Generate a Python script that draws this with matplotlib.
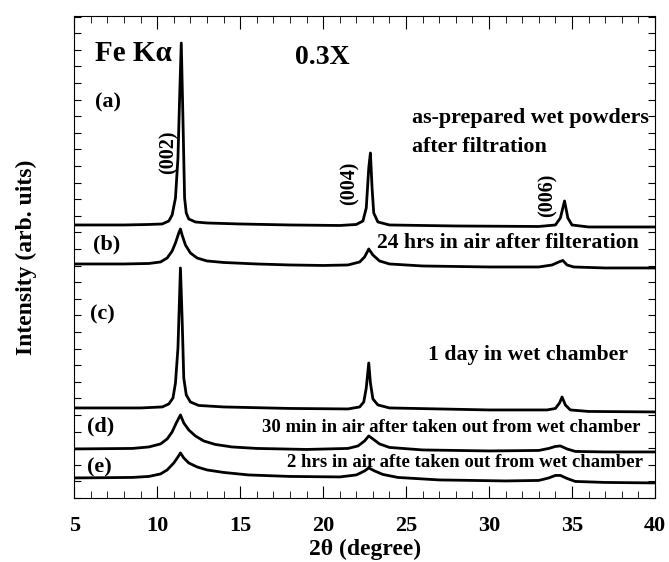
import matplotlib
matplotlib.use("Agg")
import matplotlib.pyplot as plt
from matplotlib.ticker import MultipleLocator

# XRD traces: 2theta (degree), intensity (arb., offset already included)
x_a = [5.0, 8.0, 9.5, 10.3, 10.7, 10.9, 11.1, 11.25, 11.35, 11.45, 11.55, 11.65, 11.75, 11.9,
       12.3, 13.0, 15.0, 18.0, 21.0, 22.0, 22.4, 22.6, 22.75, 22.85, 22.95, 23.05, 23.3, 24.0,
       28.0, 33.0, 34.0, 34.3, 34.55, 34.75, 35.0, 36.0, 40.0]
y_a = [273, 273, 273.5, 274, 277, 283, 300, 340, 400, 455, 380, 300, 285, 279,
       276, 275, 274, 273, 272.5, 273.5, 277, 290, 330, 345, 310, 285, 276, 273,
       272, 271.5, 273, 280, 297, 280, 273, 271, 271]

x_b = [5.0, 8.0, 9.5, 10.2, 10.6, 10.9, 11.1, 11.3, 11.4, 11.5, 11.7, 12.0, 12.4, 13.0,
       14.0, 16.0, 18.0, 20.0, 21.5, 22.2, 22.5, 22.75, 23.0, 23.4, 24.0, 26.0, 30.0, 33.0,
       33.8, 34.2, 34.45, 34.7, 35.1, 37.0, 40.0]
y_b = [234, 234, 234.5, 236, 240, 247, 255, 265, 269, 263, 253, 245, 240, 237,
       235.5, 234, 233, 232.5, 233, 236, 241, 249, 243, 237, 234, 232, 231, 231,
       233, 236, 237.5, 233, 231, 230, 230]

x_c = [5.0, 9.0, 10.3, 10.7, 10.95, 11.1, 11.25, 11.4, 11.5, 11.6, 11.75, 12.0, 12.5, 14.0,
       18.0, 21.5, 22.2, 22.45, 22.6, 22.75, 22.85, 23.0, 23.3, 24.0, 30.0, 33.5, 34.0,
       34.25, 34.4, 34.6, 34.9, 36.0, 40.0]
y_c = [90, 90, 91, 94, 100, 115, 150, 230, 180, 120, 103, 96, 92.5, 91,
       89.5, 89, 91, 96, 110, 135, 115, 99, 93, 90, 88, 88, 89.5,
       95, 101, 93, 88, 86.5, 86]

x_d = [5.0, 8.5, 9.5, 10.2, 10.6, 10.9, 11.15, 11.4, 11.6, 11.9, 12.3, 12.8, 13.5, 14.5,
       16.0, 19.0, 21.5, 22.1, 22.5, 22.75, 23.0, 23.4, 24.0, 26.0, 30.0, 33.0, 33.6, 34.0,
       34.3, 34.7, 35.2, 37.0, 40.0]
y_d = [49, 49.5, 51, 54, 59, 66, 75, 83, 75, 68, 62, 57, 53.5, 51,
       49.5, 48.5, 49.5, 52, 57, 62, 59, 54, 50.5, 48, 47, 47.5, 49.5, 51.5,
       52, 49, 46.5, 46, 46]

x_e = [5.0, 8.5, 9.5, 10.2, 10.6, 11.0, 11.25, 11.4, 11.6, 11.9, 12.4, 13.0, 14.0, 15.5,
       18.0, 21.0, 22.0, 22.5, 22.75, 23.1, 23.6, 24.5, 27.0, 31.0, 33.0, 33.6, 34.0, 34.3,
       34.7, 35.2, 37.0, 40.0]
y_e = [20, 20.5, 21.5, 24, 28, 35, 41, 45, 40, 35, 31, 28, 25.5, 23,
       21.5, 21, 23, 27, 30, 27, 23.5, 20.5, 18, 17, 17.5, 20, 22.5, 22.5,
       19.5, 16.5, 15.5, 15]

traces = [(x_a, y_a), (x_b, y_b), (x_c, y_c), (x_d, y_d), (x_e, y_e)]

plt.rcParams["font.family"] = ["Liberation Serif", "DejaVu Serif"]
plt.rcParams["font.weight"] = "bold"

fig = plt.figure(figsize=(6.69, 5.62), dpi=100)
ax = fig.add_axes([0.111, 0.114, 0.868, 0.8575])

for xs, ys in traces:
    ax.plot(xs, ys, color="black", linewidth=2.0)

ax.set_xlim(5, 40)
ax.set_ylim(0, 482)
ax.xaxis.set_major_locator(MultipleLocator(5))
ax.xaxis.set_minor_locator(MultipleLocator(1))
ax.yaxis.set_major_locator(MultipleLocator(16.6))
ax.tick_params(axis="both", which="both", direction="in", top=True, right=True)
ax.tick_params(axis="x", which="major", length=9, labelsize=16, pad=13)
ax.tick_params(axis="x", which="minor", length=5)
ax.tick_params(axis="y", which="major", length=5, labelleft=False)
for lbl in ax.get_xticklabels():
    lbl.set_fontweight("bold")

ax.set_xlabel("2θ (degree)", fontsize=17, fontweight="bold", labelpad=2)
ax.set_ylabel("Intensity (arb. uits)", fontsize=17, fontweight="bold", labelpad=27)

kw = dict(fontweight="bold", color="black")
ax.text(6.24, 445, "Fe Kα", fontsize=21, va="center", **kw)
ax.text(18.3, 441, "0.3X", fontsize=20, va="center", **kw)

ax.text(6.24, 396, "(a)", fontsize=16, va="center", **kw)
ax.text(6.12, 253, "(b)", fontsize=16, va="center", **kw)
ax.text(5.94, 183, "(c)", fontsize=16, va="center", **kw)
ax.text(5.75, 71, "(d)", fontsize=16, va="center", **kw)
ax.text(5.75, 30, "(e)", fontsize=16, va="center", **kw)

ax.text(25.37, 380, "as-prepared wet powders", fontsize=15.8, va="center", **kw)
ax.text(25.37, 351, "after filtration", fontsize=15.8, va="center", **kw)
ax.text(23.25, 255, "24 hrs in air after filteration", fontsize=15.7, va="center", **kw)
ax.text(26.33, 143, "1 day in wet chamber", fontsize=15.7, va="center", **kw)
ax.text(39.12, 70, "30 min in air after taken out from wet chamber", fontsize=13.5,
        ha="right", va="center", **kw)
ax.text(39.25, 35, "2 hrs in air afte taken out from wet chamber", fontsize=13.5,
        ha="right", va="center", **kw)

ax.text(10.70, 346, "(002)", fontsize=14.5, rotation=90, ha="center", va="center", **kw)
ax.text(21.62, 315, "(004)", fontsize=14.5, rotation=90, ha="center", va="center", **kw)
ax.text(33.51, 303, "(006)", fontsize=14.5, rotation=90, ha="center", va="center", **kw)

fig.savefig("out.png", dpi=100)
